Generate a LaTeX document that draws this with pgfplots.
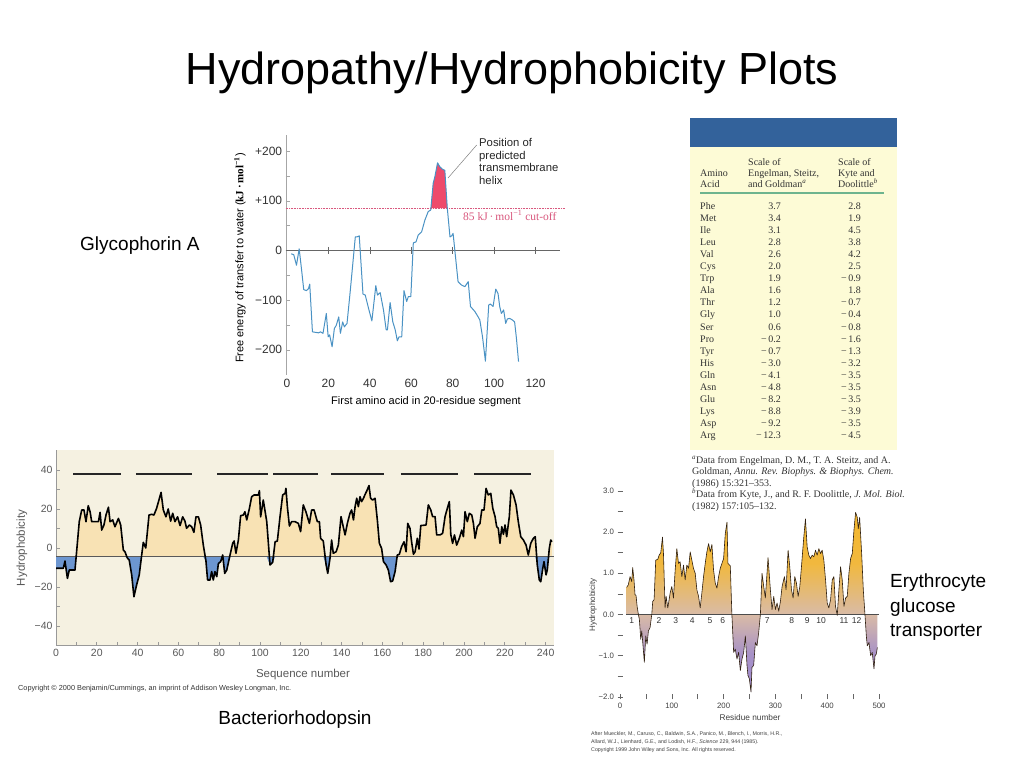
\documentclass[border=0pt]{standalone}
\usepackage{pgfplots}
\pgfplotsset{compat=1.18}
\usepackage{pgfplotstable}
\usepackage{fontspec}
\setmainfont{Liberation Sans}
\newfontfamily\serif{Liberation Serif}
\newcommand\fs[1]{\fontsize{#1}{#1}\selectfont}

\definecolor{glyblue}{HTML}{4A92C4}
\definecolor{glyred}{HTML}{EE4A6B}
\definecolor{cutpink}{HTML}{D9587E}
\definecolor{tabblue}{HTML}{33629B}
\definecolor{tabbg}{HTML}{FDFBD6}
\definecolor{tabgreen}{HTML}{6DB48E}
\definecolor{bacbg}{HTML}{F5F1E1}
\definecolor{bacfill}{HTML}{F8E2B4}
\definecolor{bacblue}{HTML}{6C96D0}
\definecolor{eryorange}{HTML}{F5B82C}
\definecolor{erytan}{HTML}{D9BBA6}
\definecolor{erypurple}{HTML}{9C88CF}

% glycophorin A, free energy per 20-residue window
\pgfplotstableread{
x y
2.1 -7
3.3 -9
4.6 -30
5.9 3
6.9 -33
8.1 -79
9.4 -81
10.4 -77
11.0 -68
12.3 -164
13.8 -165
15.3 -166
16.2 -164
17.4 -167
19.0 -127
19.9 -174
20.6 -170
21.8 -194
22.9 -157
23.8 -151
25.0 -134
25.8 -167
26.9 -144
27.7 -154
29.0 -147
30.6 -80
33.0 27
33.8 27
34.9 29
36.7 -88
37.8 -90
39.4 -117
41.0 -142
42.9 -71
43.7 -90
45.0 -85
46.6 -120
47.9 -160
48.5 -160
49.8 -105
51.1 -144
52.2 -159
53.3 -182
54.1 -174
55.4 -174
56.5 -81
57.8 -103
58.6 -93
59.8 -93
61.0 15
62.3 17
63.4 31
65.0 37
66.6 61
68.2 78
69.4 81
70.6 135
71.4 148
72.7 176
73.8 168
75.1 163
76.2 161
77.4 85
78.7 27
79.5 29
80.2 34
82.6 -63
84.3 -70
85.9 -73
87.5 -63
88.6 -113
90.7 -123
92.3 -134
93.1 -140
94.4 -174
95.8 -223
97.4 -110
98.2 -108
99.5 -113
100.8 -78
101.9 -87
102.7 -113
103.5 -127
104.6 -120
105.6 -147
106.4 -138
107.5 -137
108.8 -140
109.9 -144
110.7 -174
111.8 -224
}\glydata

% bacteriorhodopsin hydrophobicity
\pgfplotstableread{
x y
0 -10.4
3.6 -10.4
4.4 -6.7
5.6 -15.6
6.5 -11.3
9.3 -11.3
10.1 -1.9
11.4 13.5
12.6 19.5
13.7 19.5
14.7 13.5
15.8 21.7
16.7 18.6
17.5 13.5
20.8 13.5
21.6 18.3
22.4 9.2
23.5 11.8
24.5 16.9
25.7 20.9
26.5 13.5
27.8 14.4
28.9 10.9
30.6 15.2
31.7 11.8
33.0 -1
33.8 -1.9
34.9 -5
35.9 -6.2
37.1 -13.8
38.2 -25
39.5 -19
40.8 -13.8
42.0 -3.6
42.8 2.9
44.0 0
45.6 16.9
46.9 17.3
48.0 16.9
49.3 20.3
51.5 28.5
52.6 19.5
53.9 16
55.0 20
56.2 13.8
57.2 17.8
58.3 13.5
59.6 16
60.8 11.5
62.1 16
63.2 13.8
64.0 10.1
65.4 11.8
66.5 10.9
67.6 8
68.6 16
69.8 16
70.9 11.8
72.2 1.5
73.5 -6.7
74.3 -16.4
75.5 -16.4
76.3 -12.1
77.1 -16.4
77.9 -12.1
78.8 -14.7
79.6 -7.9
80.7 -7
81.7 -3.6
82.7 -13
83.7 -11.3
85.3 -3.6
86.6 2.4
87.3 3.6
88.2 -2.7
89.4 4.1
90.5 16.6
91.8 16.9
92.6 18.6
93.5 14.4
94.8 20.3
95.9 26.3
97.1 27.2
99.2 27.2
99.7 29.4
100.3 16
101.6 24.6
103.3 13.5
104.9 -8.7
106.2 -7.4
107.4 3.2
108.5 3.6
109.8 16
111.1 27.2
112.3 28
112.7 30.6
113.4 21.2
114.4 11.3
115.5 13.5
117.2 13.5
118.8 12.6
119.9 8.4
121.2 22.1
122.5 18.6
124.2 12.6
125.3 19.5
126.5 19.5
128.1 13.5
129.1 13.5
129.7 5
131.0 3.6
132.4 -8.7
133.2 -13
134.3 -5.3
135.1 4.1
135.9 -2.7
137.3 -1.9
138.4 1.5
139.7 16.1
140.8 10.9
141.7 6.7
142.8 12.6
144.1 17.8
144.9 19.5
145.8 14.4
146.6 21.2
147.4 25.5
148.2 21.2
149.0 26.3
149.8 23.8
150.7 25.5
151.5 27.5
152.3 29.2
153.4 32
154.2 25.5
155.2 24.6
156.4 25.5
157.5 14.4
158.5 2.4
159.6 -0.2
160.5 -7
161.8 -8.7
162.9 -11.3
164.0 -17.3
165.0 -16.9
166.2 -12.1
167.3 -3.6
168.3 -3.2
169.4 0.7
170.6 3.2
171.6 -1.9
172.4 12.6
173.5 10.1
174.3 3.2
175.2 -3.2
176.0 -1.9
177.1 5
177.9 -0.5
178.8 11.5
181.4 11.8
182.5 22.1
183.7 19.5
184.6 16.1
185.8 16.1
186.6 6.7
188.2 6.7
189.5 7.5
190.7 16.1
191.8 20.3
192.8 23.8
193.5 7
194.4 2.4
195.3 6.7
196.4 1.5
197.7 5
198.9 9.2
199.7 5.8
200.5 18.6
201.6 13.5
202.6 17.8
203.8 16.9
204.6 12.6
205.4 5
206.5 10.9
207.8 12.6
208.7 19.5
209.8 19.5
210.8 30.6
211.9 27.2
213.1 28
214.1 20.3
215.2 16.1
216.0 10.9
216.8 10.1
217.6 2.4
218.5 10.9
219.3 7
220.1 11.8
220.9 5.8
222.2 16.1
223.0 29.7
224.2 27.2
225.5 22.1
226.6 13.5
227.8 5.8
229.1 4.1
230.4 1.5
231.5 -3.6
232.7 2.4
234.0 5
234.9 5.8
235.9 -8.7
236.9 -16.4
237.6 -17.3
238.6 -10.4
239.2 -7
240.2 -13.8
240.8 -11.3
241.8 -0.2
242.5 4.1
243.1 3.2
}\bacdata

% erythrocyte glucose transporter
\pgfplotstableread{
x y
12.9 0.66
16 0.72
19.4 0.92
22.6 0.80
24.5 1.14
27 0.84
29 0.48
31 0.46
33 0.2
35.5 0
37.4 -0.12
40 -0.6
42 -0.4
43.9 -0.68
47 -1.16
49.7 -0.52
52.3 -0.72
54.8 -0.4
58 -0.32
61.3 0
63.2 0.32
65.8 0.36
69 1.32
72.9 1.34
75.5 1.44
78.7 1.5
82 1.88
83.9 1.48
87 0.16
89 0.44
92.3 0.16
96.8 0.52
100 0.68
103.2 0.4
106.5 1.08
109.7 1.6
112.9 1.24
116 1.28
119.4 0.92
122.6 1.2
125.8 0.84
129 1.2
132.3 1.12
135.5 1.52
138.7 1.32
141.9 1.12
145.2 1.0
148.4 0.6
151.6 0.44
154.8 0.16
158 0.52
161.3 0.92
164.5 1.24
167.7 1.52
171 1.72
174.2 1.52
177.4 1.70
180.6 1.08
183.9 0.76
187.1 0.64
190.3 0.92
193.5 1.12
196.8 1.24
200 1.36
203.2 1.96
206.5 2.24
208.4 1.24
212.9 1.18
216 0
219.4 -0.92
222.6 -0.84
225.8 -1.08
229 -0.92
232.3 -1.36
235.5 -1.08
238.7 -0.92
242 -0.52
245.2 -1.24
247 -1.48
249.7 -1.56
252.9 -1.88
254.8 -1.28
258 -1.24
261.3 -0.68
264.5 -0.76
267.7 -0.44
271 0
274.2 1.0
277.4 0.68
280.6 0.4
285.8 1.38
290.3 0.6
293.5 0.12
296.8 0.44
300 0.12
303.2 0.28
306.5 0.08
309.7 0.32
312.9 0.68
317.4 0.92
320.6 0.6
324.5 1.56
327.7 1.16
331 0.6
334.2 0.4
337.4 0.92
340.6 0.76
343.9 0.44
347.1 0.68
350.3 1.16
354.8 1.88
358 2.32
361.3 1.64
364.5 1.44
367.7 1.36
371 1.44
374.2 1.40
377.4 1.56
380.6 1.44
383.9 1.60
387.1 1.48
390.3 1.56
393.5 1.32
396.8 0.84
400 0.28
403.2 0.16
406.5 0.36
409.7 0.84
412.9 0.92
416 0.2
419.4 -0.02
422.6 0.6
425.8 1.16
429 0.84
432.3 0.2
435.5 0.4
438.7 0.44
441.9 1.0
445.2 1.36
448.4 1.48
451.6 2.04
454.8 2.48
458 2.36
460 2.08
462.6 2.36
466.5 1.48
469.7 0.6
472.9 0
475.5 -0.52
477.4 -0.76
480.6 -0.68
483.9 -1.0
487 -0.92
490.3 -1.32
492.3 -1.0
494.8 -0.96
496.8 -0.8
}\erydata

\begin{document}
\begin{tikzpicture}[x=1pt,y=1pt]
\fill[white] (0,0) rectangle (1024,-768);

% title and captions
\node[font=\fs{45}, anchor=base, inner sep=0pt] at (512,-84) {Hydropathy/Hydrophobicity Plots};
\node[font=\fs{19}, anchor=base west, inner sep=0pt] at (80,-250) {Glycophorin A};
\node[font=\fs{19}, anchor=base, inner sep=0pt] at (295,-724) {Bacteriorhodopsin};
\node[font=\fs{19}, anchor=base west, inner sep=0pt] at (890,-587) {Erythrocyte};
\node[font=\fs{19}, anchor=base west, inner sep=0pt] at (890,-612) {glucose};
\node[font=\fs{19}, anchor=base west, inner sep=0pt] at (890,-636) {transporter};

% ---------- glycophorin A ----------
\begin{axis}[at={(285.7pt,-374.6pt)}, anchor=south west, scale only axis,
  width=274.7pt, height=239.6pt, clip=false,
  xmin=-0.6, xmax=132, ymin=-250, ymax=232,
  axis x line*=bottom, axis y line*=left,
  axis line style={-, draw=gray!70},
  x axis line style={draw=none},
  xtick={0,20,...,120}, xtick style={draw=none},
  ytick={-200,-100,0,100,200},
  yticklabels={−200,−100,0,+100,+200},
  minor ytick={-150,-50,50,150},
  tick align=inside, major tick length=4pt, minor tick length=4pt,
  ytick style={gray!70}, minor tick style={gray!70},
  /pgf/number format/assume math mode=true,
  tick label style={font=\fs{12}, text=black!80},
  xticklabel style={yshift=-1pt},
]
\addplot[draw=cutpink, densely dotted, line width=0.6pt] coordinates {(-0.6,85) (134.5,85)};
\addplot[draw=gray!80!black, line width=0.6pt] coordinates {(-0.6,0) (132,0)};
\addplot[only marks, mark=|, mark size=3.5pt, gray!80!black, mark options={line width=0.6pt}]
  coordinates {(20,0) (40,0) (60,0) (80,0) (100,0) (120,0)};
\addplot[fill=glyred, draw=none] coordinates
  {(69.5,85) (70.6,135) (71.4,148) (72.7,176) (73.8,168) (75.1,163) (76.2,161) (77.4,85)};
\addplot[glyblue, line width=1pt, line join=round] table[x=x, y=y] {\glydata};
\end{axis}
\node[rotate=90, font=\fs{11}, inner sep=0pt] at (240,-258)
  {Free energy of transfer to water ({\serif\bfseries kJ\,·\,mol\textsuperscript{−1}})};
\node[font=\fs{11}, inner sep=0pt] at (426,-402) {First amino acid in 20-residue segment};
\draw[gray, line width=0.5pt] (448,-178) -- (476.7,-145);
\node[anchor=north west, align=left, font=\fontsize{11.3}{12.8}\selectfont, inner sep=0pt, text=black!85]
  at (479,-138) {Position of\\predicted\\transmembrane\\helix};
\node[anchor=base west, font=\serif\fs{11.5}, text=cutpink, inner sep=0pt] at (463,-220)
  {85 kJ\,·\,mol\textsuperscript{−1} cut-off};

% ---------- table ----------
\fill[tabblue] (690,-118) rectangle (897,-147);
\fill[tabbg] (690,-147) rectangle (897,-450);
\begin{scope}[every node/.style={font=\serif\fs{10}, text=black!80, inner sep=0pt}]
\node[anchor=base west] at (700,-176) {Amino};
\node[anchor=base west] at (700,-187) {Acid};
\node[anchor=base west] at (748,-165) {Scale of};
\node[anchor=base west] at (748,-176) {Engelman, Steitz,};
\node[anchor=base west] at (748,-187) {and Goldman\textsuperscript{\itshape a}};
\node[anchor=base west] at (838,-165) {Scale of};
\node[anchor=base west] at (838,-176) {Kyte and};
\node[anchor=base west] at (838,-187) {Doolittle\textsuperscript{\itshape b}};
\foreach \n/\a/\b [count=\i from 0] in {Phe/3.7/2.8, Met/3.4/1.9, Ile/3.1/4.5, Leu/2.8/3.8,
  Val/2.6/4.2, Cys/2.0/2.5, Trp/1.9/−\,0.9, Ala/1.6/1.8, Thr/1.2/−\,0.7, Gly/1.0/−\,0.4,
  Ser/0.6/−\,0.8, Pro/−\,0.2/−\,1.6, Tyr/−\,0.7/−\,1.3, His/−\,3.0/−\,3.2, Gln/−\,4.1/−\,3.5,
  Asn/−\,4.8/−\,3.5, Glu/−\,8.2/−\,3.5, Lys/−\,8.8/−\,3.9, Asp/−\,9.2/−\,3.5, Arg/−\,12.3/−\,4.5} {
  \node[anchor=base west] at (700,{-209.5-12.05*\i}) {\n};
  \node[anchor=base east] at (781,{-209.5-12.05*\i}) {\a};
  \node[anchor=base east] at (861,{-209.5-12.05*\i}) {\b};
}
\node[anchor=base west] at (692,-463) {\textsuperscript{\itshape a}Data from Engelman, D. M., T. A. Steitz, and A.};
\node[anchor=base west] at (692,-474.5) {Goldman, \itshape Annu. Rev. Biophys. \& Biophys. Chem.};
\node[anchor=base west] at (692,-486) {(1986) 15:321–353.};
\node[anchor=base west] at (692,-497.5) {\textsuperscript{\itshape b}Data from Kyte, J., and R. F. Doolittle, \textit{J. Mol. Biol.}};
\node[anchor=base west] at (692,-509) {(1982) 157:105–132.};
\end{scope}
\draw[tabgreen, line width=1.3pt] (700,-193) -- (884,-193);

% ---------- bacteriorhodopsin ----------
\begin{axis}[at={(56pt,-645.5pt)}, anchor=south west, scale only axis,
  width=497.8pt, height=195pt,
  xmin=0, xmax=244, ymin=-50, ymax=50,
  axis background/.style={fill=bacbg},
  axis x line*=bottom, axis y line*=left,
  axis line style={-, draw=gray!80, line width=0.7pt},
  xtick={0,20,...,240}, minor xtick={10,30,...,230},
  ytick={-40,-20,0,20,40}, yticklabels={−40,−20,0,20,40},
  minor ytick={-30,-10,10,30},
  tick align=inside, major tick length=3.5pt, minor tick length=3.5pt,
  tick style={gray!80, line width=0.7pt}, minor tick style={gray!80, line width=0.7pt},
  /pgf/number format/assume math mode=true,
  tick label style={font=\fs{10.5}, text=black!65},
]
\addplot[draw=none, fill=bacfill] table[x=x, y expr={max(\thisrow{y},-4.5)}] {\bacdata}
  -- (axis cs:243.1,-4.5) -- (axis cs:0,-4.5) -- cycle;
\addplot[draw=none, fill=bacblue] table[x=x, y expr={min(\thisrow{y},-4.5)}] {\bacdata}
  -- (axis cs:243.1,-4.5) -- (axis cs:0,-4.5) -- cycle;
\addplot[draw=black!65, line width=1.1pt] coordinates {(0,-4.5) (244,-4.5)};
\addplot[black, line width=1.6pt, line join=round] table[x=x, y=y] {\bacdata};
\addplot[black!85, line width=1.4pt] coordinates {(8.4,38) (32,38)};
\addplot[black!85, line width=1.4pt] coordinates {(39.2,38) (66.5,38)};
\addplot[black!85, line width=1.4pt] coordinates {(79,38) (104,38)};
\addplot[black!85, line width=1.4pt] coordinates {(106.6,38) (128.3,38)};
\addplot[black!85, line width=1.4pt] coordinates {(135,38) (160.6,38)};
\addplot[black!85, line width=1.4pt] coordinates {(169,38) (196.8,38)};
\addplot[black!85, line width=1.4pt] coordinates {(205,38) (233,38)};
\end{axis}
\node[rotate=90, font=\fs{11.5}, text=black!65, inner sep=0pt] at (22,-548) {Hydrophobicity};
\node[font=\fs{11.5}, text=black!65, inner sep=0pt] at (303,-675) {Sequence number};
\node[anchor=west, font=\fs{7.3}, text=black!80, inner sep=0pt] at (18,-689)
  {Copyright © 2000 Benjamin/Cummings, an imprint of Addison Wesley Longman, Inc.};

% ---------- erythrocyte glucose transporter ----------
\begin{axis}[at={(620pt,-696.9pt)}, anchor=south west, scale only axis,
  width=259pt, height=206pt, clip=false,
  xmin=0, xmax=500, ymin=-2, ymax=3,
  axis line style={draw=none},
  xtick pos=bottom, ytick pos=left,
  xtick={0,100,...,500}, minor xtick={50,150,...,450},
  ytick={-2,-1,0,1,2,3}, yticklabels={−2.0,−1.0,0.0,1.0,2.0,3.0},
  minor ytick={-1.5,-0.5,0.5,1.5,2.5},
  tick align=center, major tick length=5pt, minor tick length=5pt,
  tick style={black!60, line width=0.6pt}, minor tick style={black!60, line width=0.6pt},
  /pgf/number format/assume math mode=true,
  tick label style={font=\fs{7.8}, text=black!75},
]
\addplot[draw=none, top color=eryorange, bottom color=erytan, middle color=eryorange!85!erytan]
  table[x=x, y expr={max(\thisrow{y},0)}] {\erydata}
  -- (axis cs:496.8,0) -- (axis cs:12.9,0) -- cycle;
\addplot[draw=none, top color=erytan, bottom color=erypurple, middle color=erypurple!80!erytan]
  table[x=x, y expr={min(\thisrow{y},0)}] {\erydata}
  -- (axis cs:496.8,0) -- (axis cs:12.9,0) -- cycle;
\addplot[black!70, line width=0.7pt] coordinates {(12,0) (500,0)};
\addplot[black!75!brown, line width=0.6pt, line join=round] table[x=x, y=y] {\erydata};
\end{axis}
\begin{scope}[every node/.style={font=\fs{8.5}, text=black!80, inner sep=0pt}]
\foreach \t/\px in {1/631.7, 2/659, 3/675.7, 4/692.3, 5/710, 6/722.7, 7/767.3, 8/791.7,
  9/807.3, 10/821, 11/844, 12/856.7} {
  \node at (\px,-621) {\t};
}
\end{scope}
\node[rotate=90, font=\fs{8}, text=black!75, inner sep=0pt] at (593,-605) {Hydrophobicity};
\node[font=\fs{8.3}, text=black!75, inner sep=0pt] at (750,-718) {Residue number};
\node[anchor=north west, align=left, font=\fontsize{5.3}{8}\selectfont, text=black!75, inner sep=0pt]
  at (591,-731) {After Mueckler, M., Caruso, C., Baldwin, S.A., Panico, M., Blench, I., Morris, H.R.,\\
  Allard, W.J., Lienhard, G.E., and Lodish, H.F., \textit{Science} 229, 944 (1985).\\
  Copyright 1999 John Wiley and Sons, Inc. All rights reserved.};

\pgfresetboundingbox
\path[use as bounding box] (0,0) rectangle (1024,-768);
\end{tikzpicture}
\end{document}
